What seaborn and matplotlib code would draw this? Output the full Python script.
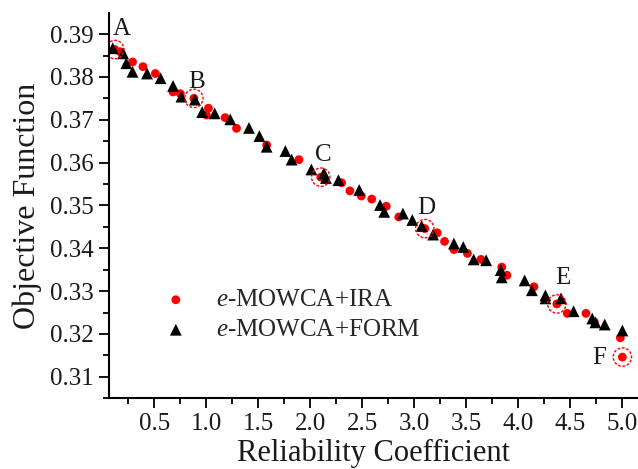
import numpy as np
import pandas as pd
import matplotlib
matplotlib.use("Agg")
import matplotlib.pyplot as plt
import seaborn as sns
from matplotlib.ticker import MultipleLocator

# ---- data ----
ira_x = [0.12, 0.17, 0.29, 0.39, 0.51, 0.68, 0.75, 0.88, 1.00, 1.02, 1.18, 1.29, 1.58,
         1.89, 2.10, 2.30, 2.38, 2.49, 2.59, 2.73, 2.85, 3.10, 3.22, 3.29, 3.38, 3.51,
         3.64, 3.84, 3.89, 4.15, 4.37, 4.47, 4.65, 4.73, 4.98, 5.00]
ira_y = [0.3864, 0.3859, 0.3835, 0.3824, 0.3808, 0.3765, 0.3761, 0.3750, 0.3711, 0.3727,
         0.3705, 0.3680, 0.3641, 0.3607, 0.3566, 0.3553, 0.3534, 0.3522, 0.3515, 0.3498,
         0.3473, 0.3446, 0.3436, 0.3416, 0.3397, 0.3388, 0.3374, 0.3356, 0.3337, 0.3310,
         0.3270, 0.3248, 0.3248, 0.3228, 0.3191, 0.3146]

form_x = [0.10, 0.20, 0.23, 0.29, 0.43, 0.56, 0.68, 0.76, 0.89, 0.96, 1.08, 1.23, 1.41,
          1.51, 1.58, 1.76, 1.82, 2.01, 2.13, 2.15, 2.27, 2.47, 2.67, 2.71, 2.89, 2.98,
          3.07, 3.18, 3.38, 3.47, 3.57, 3.69, 3.83, 3.84, 4.06, 4.13, 4.26, 4.26, 4.41,
          4.53, 4.71, 4.74, 4.83, 5.00]
form_y = [0.3867, 0.3855, 0.3832, 0.3812, 0.3808, 0.3797, 0.3779, 0.3754, 0.3747, 0.3718,
          0.3715, 0.3701, 0.3681, 0.3662, 0.3637, 0.3627, 0.3607, 0.3584, 0.3575, 0.3564,
          0.3559, 0.3536, 0.3501, 0.3485, 0.3481, 0.3466, 0.3452, 0.3432, 0.3411, 0.3403,
          0.3374, 0.3372, 0.3349, 0.3332, 0.3325, 0.3302, 0.3290, 0.3283, 0.3283, 0.3253,
          0.3236, 0.3227, 0.3222, 0.3208]

pt_labels = ["A", "B", "C", "D", "E", "F"]
pt_x = [0.12, 0.88, 2.10, 3.10, 4.37, 5.00]
pt_y = [0.3864, 0.3750, 0.3566, 0.3446, 0.3270, 0.3146]

x_ticks = [0.5, 1.0, 1.5, 2.0, 2.5, 3.0, 3.5, 4.0, 4.5, 5.0]
x_tick_labels = ["0.5", "1.0", "1.5", "2.0", "2.5", "3.0", "3.5", "4.0", "4.5", "5.0"]
y_ticks = [0.31, 0.32, 0.33, 0.34, 0.35, 0.36, 0.37, 0.38, 0.39]
y_tick_labels = ["0.31", "0.32", "0.33", "0.34", "0.35", "0.36", "0.37", "0.38", "0.39"]

# ---- plot ----
sns.set_style("ticks")
plt.rcParams["font.family"] = ["Liberation Serif", "DejaVu Serif"]
plt.rcParams["mathtext.fontset"] = "custom"
plt.rcParams["mathtext.it"] = "Liberation Serif:italic"
plt.rcParams["mathtext.rm"] = "Liberation Serif"

fig = plt.figure(figsize=(6.38, 4.69), dpi=100)
ax = fig.add_axes([0.171, 0.151, 0.829, 0.821])

df_ira = pd.DataFrame({"x": ira_x, "y": ira_y})
df_form = pd.DataFrame({"x": form_x, "y": form_y})

sns.scatterplot(data=df_ira, x="x", y="y", ax=ax, marker="o", s=40, color="#ff0000",
                edgecolor="none", label=r"$\mathit{e}$-MOWCA+IRA", zorder=3)
sns.scatterplot(data=df_form, x="x", y="y", ax=ax, marker="^", s=72, color="black",
                edgecolor="none", label=r"$\mathit{e}$-MOWCA+FORM", zorder=4)

ax.scatter(pt_x, pt_y, s=175, facecolors="none", edgecolors="#ff0000",
           linewidths=1.0, linestyles=(0, (2, 1.2)), zorder=5)

offsets = [(5, 15), (2, 12), (2, 16), (1, 15), (4, 19), (-17, -1)]
for lab, xx, yy, off in zip(pt_labels, pt_x, pt_y, offsets):
    ax.annotate(lab, (xx, yy), xytext=off, textcoords="offset points",
                ha="center", va="center", fontsize=18, color="#1a1a1a", zorder=6)

ax.set_xlim(0.065, 5.15)
ax.set_ylim(0.305, 0.3949)
ax.xaxis.set_minor_locator(MultipleLocator(0.25))
ax.yaxis.set_minor_locator(MultipleLocator(0.005))
ax.set_xticks(x_ticks)
ax.set_xticklabels(x_tick_labels)
ax.set_yticks(y_ticks)
ax.set_yticklabels(y_tick_labels)

ax.tick_params(which="major", length=7, width=1.3, labelsize=18, color="black",
               labelcolor="#1a1a1a", pad=4)
ax.tick_params(which="minor", length=4, width=1.3, color="black")

for s in ["top", "right"]:
    ax.spines[s].set_visible(False)
for s in ["left", "bottom"]:
    ax.spines[s].set_linewidth(1.5)
    ax.spines[s].set_color("black")

ax.set_xlabel("Reliability Coefficient", fontsize=22, color="#1a1a1a", labelpad=2)
ax.set_ylabel("Objective Function", fontsize=23, color="#1a1a1a", labelpad=6)

ax.legend(loc="upper left", bbox_to_anchor=(0.06, 0.31), frameon=False, fontsize=18,
          handletextpad=0.6, labelspacing=0.3, borderaxespad=0, markerscale=1.0)

fig.savefig("out.png", dpi=100)
